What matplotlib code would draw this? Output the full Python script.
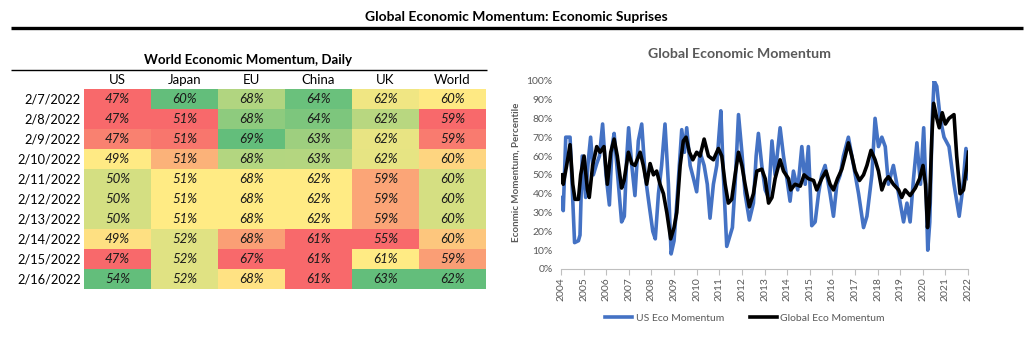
import numpy as np
import matplotlib
matplotlib.use("Agg")
from matplotlib import pyplot as plt
from matplotlib.patches import Rectangle
from matplotlib.ticker import FuncFormatter

plt.rcParams['font.family'] = ['Lato', 'DejaVu Sans']

# TABLE DATA
dates = ['2/7/2022', '2/8/2022', '2/9/2022', '2/10/2022', '2/11/2022',
         '2/12/2022', '2/13/2022', '2/14/2022', '2/15/2022', '2/16/2022']
regions = ['US', 'Japan', 'EU', 'China', 'UK', 'World']
us = [47, 47, 47, 49, 50, 50, 50, 49, 47, 54]
japan = [60, 51, 51, 51, 51, 51, 51, 52, 52, 52]
eu = [68, 68, 69, 68, 68, 68, 68, 68, 67, 68]
china = [64, 64, 63, 63, 62, 62, 62, 61, 61, 61]
uk = [62, 62, 62, 62, 59, 59, 59, 55, 61, 63]
world = [60, 59, 59, 60, 60, 60, 60, 60, 59, 62]
table_cols = [us, japan, eu, china, uk, world]

# cell colours (excel colour scale as rendered)
cell_colors = [
    ['#F8696B', '#63BE7B', '#B1D580', '#6AC17C', '#F0E683', '#FEE983'],
    ['#F8696B', '#F8696B', '#8ECB7E', '#7DC67D', '#B8D780', '#F8696B'],
    ['#F98170', '#F8766D', '#63BE7B', '#9ECF7F', '#E8E483', '#F97B6F'],
    ['#FFEA84', '#FBB279', '#B3D680', '#B4D680', '#E6E483', '#FED580'],
    ['#D4DF82', '#FFEB84', '#FFEB84', '#FFEB84', '#FBA577', '#D5DF82'],
    ['#D4DF82', '#FFEB84', '#FFEB84', '#FFEB84', '#FBA577', '#D5DF82'],
    ['#D4DF82', '#FFEB84', '#FFEB84', '#FFEB84', '#FBA577', '#D5DF82'],
    ['#FEE082', '#E0E283', '#FA9F75', '#F8696B', '#F8696B', '#FDC67D'],
    ['#F8696B', '#E0E283', '#F8696B', '#F8696B', '#FFEB84', '#FA9E75'],
    ['#63BE7B', '#E0E283', '#FFE283', '#F8696B', '#63BE7B', '#63BE7B'],
]

# CHART DATA (fractional year, percentile)
us_t = [2004.03, 2004.10, 2004.21, 2004.40, 2004.49, 2004.60, 2004.77, 2004.84, 2004.94, 2005.09,
        2005.21, 2005.31, 2005.43, 2005.58, 2005.70, 2005.84, 2005.99, 2006.14, 2006.26, 2006.35,
        2006.49, 2006.68, 2006.80, 2006.91, 2006.99, 2007.13, 2007.27, 2007.42, 2007.57, 2007.72,
        2007.91, 2008.06, 2008.17, 2008.31, 2008.45, 2008.60, 2008.75, 2008.87, 2009.00, 2009.15,
        2009.34, 2009.46, 2009.56, 2009.71, 2009.86, 2010.00, 2010.15, 2010.33, 2010.47, 2010.59,
        2010.74, 2010.89, 2010.98, 2011.07, 2011.18, 2011.33, 2011.48, 2011.58, 2011.70, 2011.85,
        2012.00, 2012.14, 2012.33, 2012.51, 2012.63, 2012.73, 2012.88, 2013.03, 2013.18, 2013.33,
        2013.47, 2013.69, 2013.84, 2013.99, 2014.13, 2014.28, 2014.47, 2014.65, 2014.80, 2014.94,
        2015.09, 2015.24, 2015.39, 2015.53, 2015.68, 2015.90, 2016.05, 2016.20, 2016.35, 2016.49,
        2016.71, 2016.94, 2017.16, 2017.38, 2017.53, 2017.75, 2017.89, 2018.04, 2018.19, 2018.34,
        2018.48, 2018.70, 2018.93, 2019.15, 2019.30, 2019.44, 2019.59, 2019.74, 2019.90, 2020.04,
        2020.15, 2020.22, 2020.31, 2020.42, 2020.50, 2020.62, 2020.77, 2020.94, 2021.16, 2021.38,
        2021.61, 2021.76, 2021.91, 2022.02]
us_v = [38, 31, 70, 70, 45, 14, 15, 18, 60, 38,
        58, 70, 50, 56, 60, 77, 50, 34, 65, 72,
        52, 25, 28, 60, 75, 55, 39, 68, 77, 50,
        33, 20, 16, 40, 55, 77, 45, 8, 15, 40,
        74, 62, 75, 55, 48, 41, 62, 55, 45, 27,
        45, 55, 70, 84, 50, 12, 18, 22, 45, 82,
        62, 40, 26, 35, 60, 72, 55, 42, 38, 68,
        50, 75, 60, 48, 36, 52, 42, 65, 45, 65,
        23, 25, 40, 50, 55, 40, 28, 45, 50, 60,
        70, 55, 40, 22, 28, 50, 80, 65, 70, 65,
        45, 55, 40, 25, 35, 25, 48, 67, 45, 75,
        40, 10, 25, 80, 100, 97, 80, 70, 65, 45,
        28, 42, 64, 48]

gl_t = [2004.03, 2004.10, 2004.25, 2004.40, 2004.52, 2004.62, 2004.77, 2004.87, 2005.02, 2005.17,
        2005.25, 2005.40, 2005.58, 2005.73, 2005.90, 2006.05, 2006.20, 2006.35, 2006.49, 2006.68,
        2006.79, 2006.98, 2007.13, 2007.27, 2007.50, 2007.64, 2007.79, 2007.94, 2008.09, 2008.23,
        2008.38, 2008.53, 2008.68, 2008.85, 2009.00, 2009.12, 2009.27, 2009.41, 2009.53, 2009.68,
        2009.83, 2010.00, 2010.15, 2010.33, 2010.52, 2010.74, 2010.96, 2011.11, 2011.26, 2011.40,
        2011.55, 2011.70, 2011.85, 2012.00, 2012.14, 2012.33, 2012.51, 2012.66, 2012.88, 2013.03,
        2013.18, 2013.33, 2013.47, 2013.69, 2013.84, 2014.06, 2014.16, 2014.35, 2014.58, 2014.75,
        2014.94, 2015.17, 2015.31, 2015.53, 2015.72, 2015.90, 2016.05, 2016.23, 2016.42, 2016.57,
        2016.71, 2016.86, 2017.01, 2017.20, 2017.38, 2017.53, 2017.71, 2017.89, 2018.04, 2018.19,
        2018.34, 2018.48, 2018.70, 2018.93, 2019.07, 2019.22, 2019.44, 2019.67, 2019.86, 2020.01,
        2020.12, 2020.21, 2020.30, 2020.40, 2020.48, 2020.62, 2020.73, 2020.86, 2021.00, 2021.16,
        2021.38, 2021.50, 2021.65, 2021.80, 2021.95, 2022.02]
gl_v = [50, 45, 55, 66, 45, 37, 37, 50, 60, 42,
        38, 55, 65, 62, 65, 45, 62, 69, 60, 43,
        47, 62, 56, 55, 62, 55, 45, 56, 50, 52,
        45, 40, 30, 16, 22, 30, 55, 68, 70, 62,
        58, 62, 60, 69, 60, 58, 64, 60, 45, 35,
        37, 50, 62, 55, 45, 33, 40, 52, 53, 48,
        35, 38, 48, 58, 52, 48, 42, 45, 44, 50,
        48, 47, 42, 48, 52, 45, 42, 48, 53, 60,
        67, 60, 52, 47, 50, 55, 63, 58, 52, 42,
        47, 49, 45, 42, 38, 42, 39, 43, 48, 55,
        45, 22, 35, 70, 88, 80, 75, 83, 77, 80,
        82, 60, 40, 42, 55, 62]

years = list(range(2004, 2023))

W, H = 1036, 340
fig = plt.figure(figsize=(W / 100, H / 100), dpi=100)

# overlay axes in pixel coordinates for titles + table
ov = fig.add_axes([0, 0, 1, 1])
ov.set_xlim(0, W)
ov.set_ylim(H, 0)
ov.axis('off')

ov.text(516, 17, 'Global Economic Momentum: Economic Suprises', ha='center', va='center',
        fontsize=10, weight='bold', color='black')
ov.plot([11, 1023], [28, 28], color='black', lw=2.4, solid_capstyle='butt')

ov.text(248, 60, 'World Economic Momentum, Daily', ha='center', va='center',
        fontsize=9.5, weight='bold', color='black')
ov.plot([11, 487], [69.5, 69.5], color='black', lw=1.0, solid_capstyle='butt')

x0, cw = 84, 67
y0, rh = 89.3, 20
for j, name in enumerate(regions):
    ov.text(x0 + cw * (j + 0.5), 80, name, ha='center', va='center', fontsize=9.5, color='black')
for i, d in enumerate(dates):
    yc = y0 + rh * (i + 0.5)
    ov.text(81, yc, d, ha='right', va='center', fontsize=9.2, color='black')
    for j, col in enumerate(table_cols):
        ov.add_patch(Rectangle((x0 + cw * j, y0 + rh * i), cw, rh, facecolor=cell_colors[i][j],
                               edgecolor='none'))
        ov.text(x0 + cw * (j + 0.5), yc, f'{col[i]}%', ha='center', va='center', fontsize=9.5,
                style='italic', color='#1a1a1a')

# chart
ax = fig.add_axes([561 / W, 1 - 269 / H, (968 - 561) / W, (269 - 80.7) / H])
ax.plot(us_t, us_v, color='#4472C4', lw=2.6, label='US Eco Momentum', solid_joinstyle='round')
ax.plot(gl_t, gl_v, color='black', lw=2.6, label='Global Eco Momentum', solid_joinstyle='round')
ax.set_xlim(2004, 2022)
ax.set_ylim(0, 100)
ax.set_yticks(range(0, 101, 10))
ax.yaxis.set_major_formatter(FuncFormatter(lambda v, p: f'{int(v)}%'))
ax.set_xticks(years)
ax.set_xticklabels([str(y) for y in years], rotation=90)
for s in ['top', 'right', 'left']:
    ax.spines[s].set_visible(False)
ax.spines['bottom'].set_color('#BFBFBF')
ax.tick_params(axis='y', length=0, labelsize=7.5, labelcolor='#595959', pad=6)
ax.tick_params(axis='x', length=4, color='#BFBFBF', labelsize=7.5, labelcolor='#595959', pad=2)

fig.text(739 / W, 1 - 54 / H, 'Global Economic Momentum', ha='center', va='center',
         fontsize=10.2, weight='bold', color='#595959')
fig.text(516 / W, 1 - 172 / H, 'Econmic Momentum, Percentile', ha='center', va='center',
         rotation=90, fontsize=7, weight='bold', color='#595959')

fig.legend(loc='center', bbox_to_anchor=(745 / W, 1 - 318 / H), ncol=2, frameon=False,
           fontsize=7.5, labelcolor='#595959', handlelength=2.6, columnspacing=2.5,
           handletextpad=0.3)

fig.savefig('out.png', dpi=100)
